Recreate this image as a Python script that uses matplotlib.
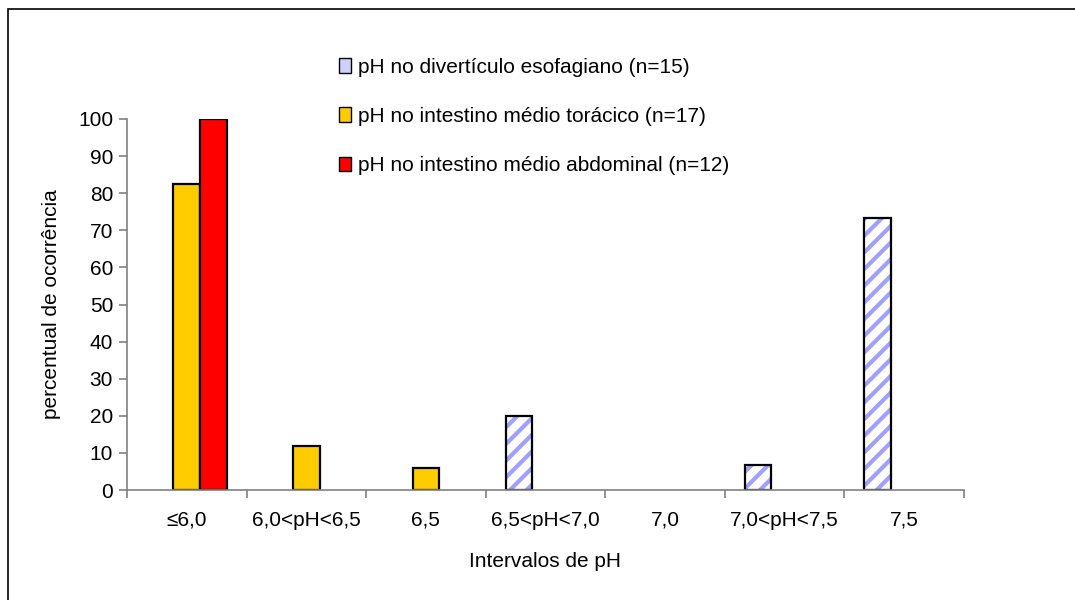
import numpy as np
import matplotlib.pyplot as plt
from matplotlib.patches import Patch, Rectangle

plt.rcParams['font.family'] = ['Liberation Sans', 'DejaVu Sans']
plt.rcParams['hatch.linewidth'] = 3.0

categorias = ['≤6,0', '6,0<pH<6,5', '6,5', '6,5<pH<7,0', '7,0', '7,0<pH<7,5', '7,5']
esofagiano = [0, 0, 0, 20.0, 0, 6.67, 73.33]
toracico = [82.35, 11.76, 5.88, 0, 0, 0, 0]
abdominal = [100.0, 0, 0, 0, 0, 0, 0]

nomes = ['pH no divertículo esofagiano (n=15)',
         'pH no intestino médio torácico (n=17)',
         'pH no intestino médio abdominal (n=12)']

fig = plt.figure(figsize=(10.75, 6), dpi=100)
ax = fig.add_axes([0.1181, 0.1833, 0.7786, 0.6184])

# moldura externa
fig.patches.append(Rectangle((8 / 1075, -0.1), 1.2, 1 - 9 / 600 + 0.1,
                             transform=fig.transFigure, fill=False,
                             edgecolor='black', linewidth=1.2))

x = np.arange(len(categorias))
w = 1 / 4.5
azul = '#A0A0FF'

def barras(pos, vals, **kw):
    vals = np.array(vals)
    m = vals > 0
    return ax.bar(pos[m], vals[m], w, **kw)

# listras azuis e contorno preto separados
barras(x - w, esofagiano, color='white', edgecolor=azul, hatch='//', linewidth=0)
barras(x - w, esofagiano, fill=False, edgecolor='black', linewidth=1.6)
barras(x, toracico, color='#FFCC00', edgecolor='black', linewidth=1.6)
barras(x + w, abdominal, color='#FF0000', edgecolor='black', linewidth=1.6)

ax.set_xlim(-0.5, len(categorias) - 0.5)
ax.set_ylim(0, 100)
ax.set_yticks(np.arange(0, 101, 10))
ax.set_xticks(np.arange(-0.5, len(categorias)), minor=False)
ax.set_xticklabels([])
ax.set_xticks(x, minor=True)
ax.set_xticklabels(categorias, minor=True)
ax.tick_params(axis='x', which='major', length=6, color='#808080', width=1.2)
ax.tick_params(axis='x', which='minor', length=0, pad=15, labelsize=15)
ax.tick_params(axis='y', length=6, color='#808080', width=1.2, labelsize=15, pad=4)

for s in ['top', 'right']:
    ax.spines[s].set_visible(False)
for s in ['left', 'bottom']:
    ax.spines[s].set_color('#808080')
    ax.spines[s].set_linewidth(1.2)

ax.set_ylabel('percentual de ocorrência', fontsize=15, labelpad=12)
ax.set_xlabel('Intervalos de pH', fontsize=15, labelpad=16)

handles = [Patch(facecolor='#D0D0FF', edgecolor='black'),
           Patch(facecolor='#FFCC00', edgecolor='black'),
           Patch(facecolor='#FF0000', edgecolor='black')]
fig.legend(handles, nomes, loc='upper left', bbox_to_anchor=(0.298, 0.935),
           frameon=False, fontsize=15, handlelength=0.55, handleheight=0.7,
           handletextpad=0.35, labelspacing=1.45)

fig.savefig('out.png', dpi=100)
